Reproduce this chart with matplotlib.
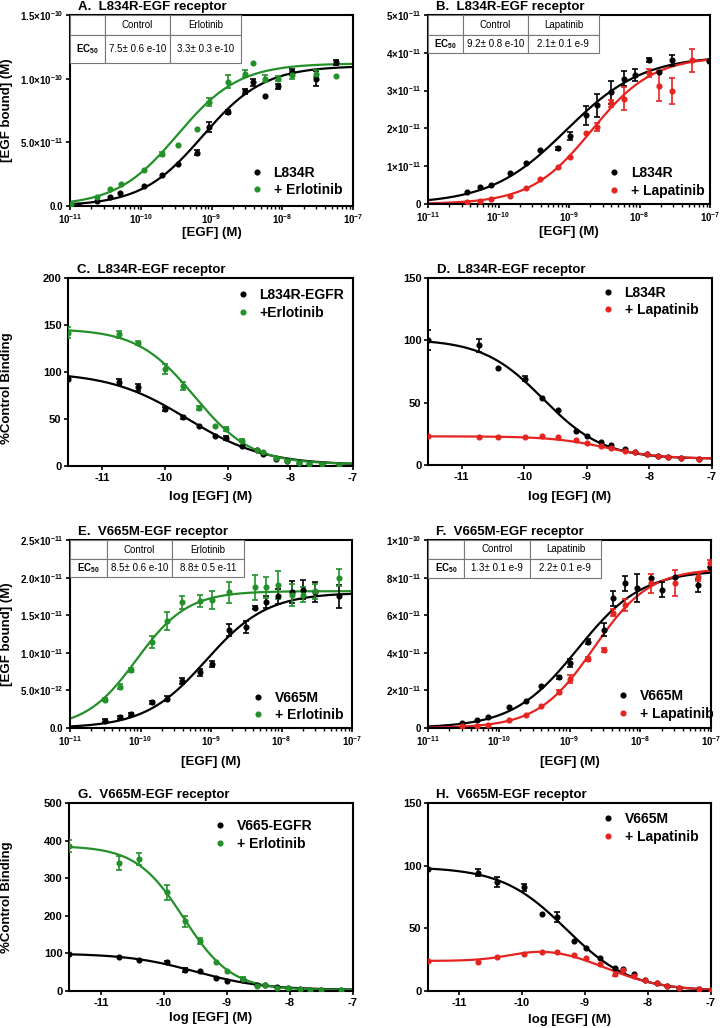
import numpy as np
import matplotlib
matplotlib.use('Agg')
import matplotlib.pyplot as plt
from matplotlib.ticker import FixedLocator, FixedFormatter, NullLocator, LogLocator, NullFormatter

plt.rcParams['font.family'] = ['Liberation Sans', 'DejaVu Sans']
plt.rcParams['font.weight'] = 'bold'
plt.rcParams['axes.unicode_minus'] = False
plt.rcParams['mathtext.fontset'] = 'custom'
plt.rcParams['mathtext.rm'] = 'Liberation Sans:bold'
plt.rcParams['mathtext.it'] = 'Liberation Sans:bold'
plt.rcParams['mathtext.bf'] = 'Liberation Sans:bold'
plt.rcParams['mathtext.sf'] = 'Liberation Sans'
plt.rcParams['mathtext.default'] = 'rm'

GREEN = '#23902a'
RED = '#e52421'

# ---------------- data ----------------
# A: L834R + Erlotinib, saturation binding, y in units of 1e-11 M
a_x_ctl = [-10.87, -10.62, -10.43, -10.29, -9.96, -9.70, -9.47, -9.21, -9.03, -8.77, -8.53, -8.42, -8.24, -8.06, -7.86, -7.53, -7.24]
a_y_ctl = [0.0, 0.4, 0.72, 1.0, 1.55, 2.4, 3.3, 4.2, 6.2, 7.4, 9.0, 9.7, 8.6, 9.4, 10.5, 10.0, 11.3]
a_e_ctl = [0, 0, 0, 0, 0, 0, 0, 0.2, 0.4, 0.15, 0.2, 0.25, 0, 0.2, 0.25, 0.6, 0.2]
a_x_drug = [-10.99, -10.62, -10.43, -10.28, -9.96, -9.70, -9.47, -9.21, -9.03, -8.77, -8.53, -8.42, -8.24, -8.06, -7.86, -7.53, -7.24]
a_y_drug = [0.13, 0.72, 1.3, 1.74, 2.86, 4.1, 4.8, 6.07, 8.16, 9.76, 10.4, 11.2, 10.0, 10.0, 10.3, 10.4, 10.2]
a_e_drug = [0, 0, 0, 0, 0, 0.15, 0, 0, 0.3, 0.5, 0.3, 0, 0.3, 0.2, 0.3, 0.3, 0]
a_fit_ctl = [0, 11.0, -9.125, 1.0]
a_fit_drug = [0, 11.2, -9.48, 1.0]
a_table = ['Erlotinib', '7.5\u00b1 0.6 e-10', '3.3\u00b1 0.3 e-10']

# B: L834R + Lapatinib, y in units of 1e-11 M
b_x_ctl = [-10.44, -10.26, -10.11, -9.84, -9.61, -9.41, -9.16, -8.99, -8.76, -8.60, -8.40, -8.22, -8.06, -7.87, -7.72, -7.54, -7.01]
b_y_ctl = [0.31, 0.44, 0.50, 0.82, 1.09, 1.42, 1.47, 1.80, 2.35, 2.61, 2.95, 3.32, 3.41, 3.81, 3.50, 3.80, 3.77]
b_e_ctl = [0, 0, 0, 0, 0, 0, 0.05, 0.1, 0.25, 0.3, 0.3, 0.2, 0.15, 0.05, 0, 0.15, 0]
b_x_drug = [-10.44, -10.26, -10.11, -9.84, -9.61, -9.41, -9.16, -8.99, -8.76, -8.60, -8.40, -8.22, -7.87, -7.72, -7.54, -7.25]
b_y_drug = [0.05, 0.08, 0.12, 0.22, 0.42, 0.65, 0.97, 1.25, 1.87, 2.04, 2.66, 2.79, 3.46, 3.12, 2.99, 3.80]
b_e_drug = [0, 0, 0, 0, 0, 0, 0, 0, 0, 0.1, 0.1, 0.3, 0.1, 0.4, 0.35, 0.3]
b_fit_ctl = [0, 3.92, -9.036, 0.8]
b_fit_drug = [0, 3.9, -8.678, 1.0]
b_table = ['Lapatinib', '9.2\u00b1 0.8 e-10', '2.1\u00b1 0.1 e-9']

# C: L834R competition, Erlotinib (% control binding vs log[EGF])
c_x = [-11.55, -10.74, -10.44, -10.0, -9.72, -9.46, -9.21, -9.02, -8.77, -8.54, -8.43, -8.23, -8.06, -7.87, -7.71, -7.50, -7.23]
c_y_ctl = [92.5, 89.7, 83.6, 61, 51.6, 42.7, 31.7, 29.9, 21.4, 16.7, 12.5, 7.8, 5.3, 3.6, 2.5, 2.1, 1.4]
c_e_ctl = [2, 3, 4, 2, 2, 0, 0, 2, 0, 0, 0, 0, 0, 0, 0, 0, 0]
c_y_drug = [142, 140, 131, 103, 85, 62, 43, 39, 27, 17, 15, 8, 5.3, 3.6, 2.5, 1.8, 1.4]
c_e_drug = [6, 4, 2, 5, 4, 2, 0, 2, 2, 0, 0, 0, 0, 0, 0, 0, 0]
c_fit_ctl = [1, 100, -9.65, 0.7]
c_fit_drug = [2, 146, -9.53, 0.95]

# D: L834R competition, Lapatinib
d_x = [-11.54, -10.72, -10.42, -9.99, -9.71, -9.46, -9.18, -9.0, -8.78, -8.61, -8.39, -8.23, -8.04, -7.87, -7.70, -7.50, -7.21]
d_y_ctl = [100, 96, 77.7, 69, 54, 44, 27.6, 23.6, 18.2, 16, 12.6, 10.2, 8.6, 7.5, 6.2, 5.4, 4.6]
d_e_ctl = [8, 5, 0, 2, 0, 0, 0, 0, 0, 0, 0, 0, 0, 0, 0, 0, 0]
d_y_drug = [23.3, 22.5, 22.5, 22.5, 23.6, 22.8, 20, 18, 15.5, 13.4, 11.5, 10.2, 8.8, 7.2, 6.2, 5.4, 4.6]
d_e_drug = [0] * 17
d_fit_ctl = [5, 101, -9.7, 0.9]
d_fit_drug = [5, 23, -8.7, 1.0]

# E: V665M + Erlotinib, y in units of 1e-12 M
e_x_ctl = [-10.51, -10.29, -10.14, -9.84, -9.62, -9.41, -9.16, -8.99, -8.75, -8.50, -8.38, -8.22, -8.05, -7.85, -7.69, -7.52, -7.19]
e_y_ctl = [0.97, 1.4, 1.86, 3.45, 3.9, 6.3, 7.4, 8.5, 13.0, 13.4, 16.0, 16.8, 17.5, 18.1, 18.4, 18.1, 17.5]
e_e_ctl = [0.2, 0.2, 0.2, 0.2, 0.3, 0.4, 0.5, 0.4, 0.8, 0.8, 0.2, 0.8, 1.0, 1.5, 1.3, 1.3, 1.5]
e_x_drug = [-10.51, -10.29, -10.14, -9.84, -9.62, -9.41, -9.16, -8.99, -8.75, -8.38, -8.22, -8.05, -7.85, -7.69, -7.52, -7.19]
e_y_drug = [3.76, 5.5, 7.7, 11.5, 14.2, 16.7, 16.9, 17.0, 18.05, 18.7, 18.7, 19.0, 17.7, 17.7, 18.2, 20.0]
e_e_drug = [0.2, 0.3, 0.3, 0.8, 1.2, 0.9, 0.8, 1.2, 1.4, 1.7, 1.4, 1.9, 1.5, 1.0, 1.0, 1.1]
e_fit_ctl = [0, 18.0, -9.07, 1.0]
e_fit_drug = [0, 18.2, -10.056, 1.2]
e_table = ['Erlotinib', '8.5\u00b1 0.6 e-10', '8.8\u00b1 0.5 e-11']

# F: V665M + Lapatinib, y in units of 1e-11 M
f_x_ctl = [-10.52, -10.31, -10.15, -9.85, -9.62, -9.40, -9.15, -8.99, -8.74, -8.51, -8.39, -8.21, -8.04, -7.85, -7.69, -7.51, -7.19, -7.01]
f_y_ctl = [0.27, 0.44, 0.57, 1.12, 1.42, 2.21, 2.69, 3.45, 4.6, 5.22, 6.9, 7.7, 7.43, 7.96, 7.35, 8.02, 7.6, 8.58]
f_e_ctl = [0, 0, 0, 0, 0, 0, 0.1, 0.2, 0.15, 0.35, 0.4, 0.4, 0.75, 0, 0.4, 0, 0.35, 0]
f_x_drug = [-10.52, -10.31, -10.15, -9.85, -9.62, -9.40, -9.15, -8.99, -8.74, -8.51, -8.39, -8.21, -7.85, -7.51, -7.19, -7.01]
f_y_drug = [0.09, 0.12, 0.18, 0.41, 0.71, 1.15, 1.91, 2.6, 3.66, 4.16, 6.14, 6.55, 7.7, 7.73, 8.02, 8.76]
f_e_drug = [0, 0, 0, 0, 0, 0, 0.1, 0.2, 0.1, 0.1, 0.2, 0.3, 0.5, 0.7, 0.2, 0.2]
f_fit_ctl = [0, 8.4, -8.886, 0.95]
f_fit_drug = [0, 8.5, -8.658, 1.1]
f_table = ['Lapatinib', '1.3\u00b1 0.1 e-9', '2.2\u00b1 0.1 e-9']

# G: V665M competition, Erlotinib
g_x = [-11.51, -10.71, -10.40, -9.96, -9.67, -9.43, -9.18, -9.0, -8.75, -8.52, -8.39, -8.21, -8.03, -7.84, -7.68, -7.51, -7.19]
g_y_ctl = [98.6, 89.7, 82.6, 76.4, 56, 53, 34.6, 26.6, 29.3, 15, 15, 9.8, 8, 4.4, 3.6, 3.6, 2.7]
g_e_ctl = [0, 0, 0, 4, 6, 0, 0, 0, 0, 0, 0, 0, 0, 0, 0, 0, 0]
g_y_drug = [386, 340, 351, 262, 185, 134, 78, 54, 32, 13, 15, 9, 7, 4.4, 3.6, 3.6, 2.7]
g_e_drug = [15, 18, 15, 20, 15, 8, 0, 0, 4, 0, 0, 0, 0, 0, 0, 0, 0]
g_fit_ctl = [3, 100, -9.5, 0.8]
g_fit_drug = [3, 386, -9.69, 1.15]

# H: V665M competition, Lapatinib (drug curve is bell shaped)
h_x = [-11.49, -10.70, -10.40, -9.97, -9.68, -9.44, -9.17, -8.99, -8.76, -8.52, -8.39, -8.22, -8.05, -7.86, -7.70, -7.51, -7.19, -7.0]
h_y_ctl = [97, 94.5, 86.7, 82.7, 61.4, 58.7, 40, 34.4, 26.7, 18.4, 17.9, 13.9, 8.5, 6.7, 3.7, 2.7, 1.3, 0.8]
h_e_ctl = [0, 3, 4, 3, 0, 4, 0, 0, 0, 0, 0, 0, 0, 0, 0, 0, 0, 0]
h_y_drug = [24, 23.5, 27.2, 29.9, 31.2, 31.2, 28.6, 26.4, 21.3, 13.9, 16.5, 11.7, 9.1, 6.4, 4.0, 2.7, 1.3, 0.5]
h_e_drug = [0, 0, 0, 0, 0, 0, 0, 0, 0, 2, 0, 0, 0, 0, 0, 0, 0, 0]
h_fit_ctl = [0, 99, -9.3, 0.85]
h_fit_drug = [24, 14, -10.1, 1.5, -8.7, 0.9]   # base, rise, logEC50 up, hill up, logIC50 down, hill down


def fit_up(logx, bottom, top, logec50, hill):
    return bottom + (top - bottom) / (1 + 10 ** (hill * (logec50 - logx)))


def fit_down(logx, bottom, top, logic50, hill):
    return bottom + (top - bottom) / (1 + 10 ** (hill * (logx - logic50)))


def bell(logx, base, rise, c1, h1, c2, h2):
    up = base + rise / (1 + 10 ** (h1 * (c1 - logx)))
    return up / (1 + 10 ** (h2 * (logx - c2)))


def series(ax, x, y, e, color, label, log=False, scale=1.0):
    x = np.array(x, float)
    y = np.array(y, float) * scale
    e = np.array(e, float) * scale
    if log:
        x = 10.0 ** x
    m = e > 0
    ax.errorbar(x[m], y[m], yerr=e[m], fmt='none', ecolor=color, elinewidth=1.2,
                capsize=2.5, capthick=1.2, zorder=3)
    ax.plot(x, y, 'o', ms=3.4, color=color, label=label, zorder=4)


def style(ax, title, leg_xy):
    for s in ax.spines.values():
        s.set_linewidth(1.5)
    ax.tick_params(which='major', direction='out', length=3.2, width=1.2, pad=1.5, labelsize=8)
    ax.text(0.03, 1.01, title, transform=ax.transAxes, fontsize=9.5, fontweight='bold',
            ha='left', va='bottom')
    ax.legend(loc='center left', bbox_to_anchor=leg_xy, frameon=False,
              prop={'weight': 'bold', 'size': 10}, handlelength=1.0, handletextpad=0.7,
              labelspacing=0.25, borderpad=0, borderaxespad=0)


def ec50_table(ax, row, bbox, col_w, row_h):
    cells = [['', 'Control', row[0]], [r'$\mathsf{EC_{50}}$', row[1], row[2]]]
    tb = ax.table(cellText=cells, colWidths=col_w, cellLoc='center', bbox=bbox)
    tb.auto_set_font_size(False)
    for (r, c), cell in tb.get_celld().items():
        cell.set_edgecolor('#777777')
        cell.set_linewidth(0.8)
        cell.set_height(row_h[r])
        cell.get_text().set_fontsize(7)
        cell.get_text().set_fontweight('normal')
    tb.set_zorder(5)


def log_axes(ax, yticks, ylabels):
    ax.set_xscale('log')
    ax.set_xlim(1e-11, 1e-7)
    ax.xaxis.set_major_locator(FixedLocator([1e-11, 1e-10, 1e-9, 1e-8, 1e-7]))
    ax.xaxis.set_major_formatter(FixedFormatter([r'$10^{-11}$', r'$10^{-10}$', r'$10^{-9}$',
                                                 r'$10^{-8}$', r'$10^{-7}$']))
    ax.xaxis.set_minor_locator(LogLocator(base=10, subs=np.arange(2, 10)))
    ax.xaxis.set_minor_formatter(NullFormatter())
    ax.tick_params(axis='x', which='minor', direction='out', length=2.0, width=1.0)
    ax.set_ylim(yticks[0], yticks[-1])
    ax.yaxis.set_major_locator(FixedLocator(yticks))
    ax.yaxis.set_major_formatter(FixedFormatter(ylabels))
    ax.tick_params(which='major', labelsize=7)


def comp_axes(ax, left, ymax, ystep):
    ax.set_xlim(left, -7)
    ax.set_xticks([-11, -10, -9, -8, -7])
    ax.set_ylim(0, ymax)
    ax.set_yticks(np.arange(0, ymax + 1, ystep))


fig = plt.figure(figsize=(7.2, 10.28), dpi=100)
W, H = 720.0, 1028.0


def add_axes(l, r, t, b):
    return fig.add_axes([l / W, 1 - b / H, (r - l) / W, (b - t) / H])


lx = np.linspace(-11, -7, 300)

# ---- A ----
ax = add_axes(70, 353, 15, 206)
ax.plot(10 ** lx, fit_up(lx, *a_fit_ctl) * 1e-11, color='black', lw=1.6)
ax.plot(10 ** lx, fit_up(lx, *a_fit_drug) * 1e-11, color=GREEN, lw=1.6)
series(ax, a_x_ctl, a_y_ctl, a_e_ctl, 'black', 'L834R', log=True, scale=1e-11)
series(ax, a_x_drug, a_y_drug, a_e_drug, GREEN, '+ Erlotinib', log=True, scale=1e-11)
style(ax, 'A.  L834R-EGF receptor', (0.636, 0.128))
log_axes(ax, [0, 5e-11, 1e-10, 1.5e-10],
         ['0.0', r'$5.0{\times}10^{-11}$', r'$1.0{\times}10^{-10}$', r'$1.5{\times}10^{-10}$'])
ec50_table(ax, a_table, [0, 0.749, 0.604, 0.251], [35, 65, 71], [20, 28])
ax.set_xlabel('[EGF] (M)', fontsize=9.5, fontweight='bold', va='center')
ax.xaxis.set_label_coords(0.5, -0.14)
ax.set_ylabel('[EGF bound] (M)', fontsize=9.5, fontweight='bold', va='center')
ax.yaxis.set_label_coords(-0.223, 0.5)

# ---- B ----
ax = add_axes(428, 710, 15, 204)
ax.plot(10 ** lx, fit_up(lx, *b_fit_ctl) * 1e-11, color='black', lw=1.6)
ax.plot(10 ** lx, fit_up(lx, *b_fit_drug) * 1e-11, color=RED, lw=1.6)
series(ax, b_x_ctl, b_y_ctl, b_e_ctl, 'black', 'L834R', log=True, scale=1e-11)
series(ax, b_x_drug, b_y_drug, b_e_drug, RED, '+ Lapatinib', log=True, scale=1e-11)
style(ax, 'B.  L834R-EGF receptor', (0.635, 0.116))
log_axes(ax, [0, 1e-11, 2e-11, 3e-11, 4e-11, 5e-11],
         ['0', r'$1{\times}10^{-11}$', r'$2{\times}10^{-11}$', r'$3{\times}10^{-11}$',
          r'$4{\times}10^{-11}$', r'$5{\times}10^{-11}$'])
ec50_table(ax, b_table, [0, 0.799, 0.606, 0.201], [35, 65, 71], [19, 18])
ax.set_xlabel('[EGF] (M)', fontsize=9.5, fontweight='bold', va='center')
ax.xaxis.set_label_coords(0.5, -0.15)

# ---- C ----
ax = add_axes(68, 353, 278, 466)
cx = np.linspace(-11.55, -7, 300)
ax.plot(cx, fit_down(cx, *c_fit_ctl), color='black', lw=1.6)
ax.plot(cx, fit_down(cx, *c_fit_drug), color=GREEN, lw=1.6)
series(ax, c_x, c_y_ctl, c_e_ctl, 'black', 'L834R-EGFR')
series(ax, c_x, c_y_drug, c_e_drug, GREEN, '+Erlotinib')
comp_axes(ax, -11.55, 200, 50)
style(ax, 'C.  L834R-EGF receptor', (0.589, 0.862))
ax.set_xlabel('log [EGF] (M)', fontsize=9.5, fontweight='bold', va='center')
ax.xaxis.set_label_coords(0.5, -0.165)
ax.set_ylabel('%Control Binding', fontsize=9.5, fontweight='bold', va='center')
ax.yaxis.set_label_coords(-0.214, 0.415)

# ---- D ----
ax = add_axes(428, 712, 278, 465)
dx = np.linspace(-11.54, -7, 300)
ax.plot(dx, fit_down(dx, *d_fit_ctl), color='black', lw=1.6)
ax.plot(dx, fit_down(dx, *d_fit_drug), color=RED, lw=1.6)
series(ax, d_x, d_y_ctl, d_e_ctl, 'black', 'L834R')
series(ax, d_x, d_y_drug, d_e_drug, RED, '+ Lapatinib')
comp_axes(ax, -11.54, 150, 50)
style(ax, 'D.  L834R-EGF receptor', (0.609, 0.874))
ax.set_xlabel('log [EGF] (M)', fontsize=9.5, fontweight='bold', va='center')
ax.xaxis.set_label_coords(0.5, -0.171)

# ---- E ----
ax = add_axes(70, 352, 540, 728)
ax.plot(10 ** lx, fit_up(lx, *e_fit_ctl) * 1e-12, color='black', lw=1.6)
ax.plot(10 ** lx, fit_up(lx, *e_fit_drug) * 1e-12, color=GREEN, lw=1.6)
series(ax, e_x_ctl, e_y_ctl, e_e_ctl, 'black', 'V665M', log=True, scale=1e-12)
series(ax, e_x_drug, e_y_drug, e_e_drug, GREEN, '+ Erlotinib', log=True, scale=1e-12)
style(ax, 'E.  V665M-EGF receptor', (0.642, 0.114))
log_axes(ax, [0, 5e-12, 1e-11, 1.5e-11, 2e-11, 2.5e-11],
         ['0.0', r'$5.0{\times}10^{-12}$', r'$1.0{\times}10^{-11}$', r'$1.5{\times}10^{-11}$',
          r'$2.0{\times}10^{-11}$', r'$2.5{\times}10^{-11}$'])
ec50_table(ax, e_table, [0, 0.803, 0.617, 0.197], [37, 65, 72], [19, 18])
ax.set_xlabel('[EGF] (M)', fontsize=9.5, fontweight='bold', va='center')
ax.xaxis.set_label_coords(0.5, -0.18)
ax.set_ylabel('[EGF bound] (M)', fontsize=9.5, fontweight='bold', va='center')
ax.yaxis.set_label_coords(-0.223, 0.5)

# ---- F ----
ax = add_axes(428, 711, 540, 728)
ax.plot(10 ** lx, fit_up(lx, *f_fit_ctl) * 1e-11, color='black', lw=1.6)
ax.plot(10 ** lx, fit_up(lx, *f_fit_drug) * 1e-11, color=RED, lw=1.6)
series(ax, f_x_ctl, f_y_ctl, f_e_ctl, 'black', 'V665M', log=True, scale=1e-11)
series(ax, f_x_drug, f_y_drug, f_e_drug, RED, '+ Lapatinib', log=True, scale=1e-11)
style(ax, 'F.  V665M-EGF receptor', (0.664, 0.122))
log_axes(ax, [0, 2e-11, 4e-11, 6e-11, 8e-11, 1e-10],
         ['0', r'$2{\times}10^{-11}$', r'$4{\times}10^{-11}$', r'$6{\times}10^{-11}$',
          r'$8{\times}10^{-11}$', r'$1{\times}10^{-10}$'])
ec50_table(ax, f_table, [0, 0.798, 0.611, 0.202], [36, 66, 71], [19, 19])
ax.set_xlabel('[EGF] (M)', fontsize=9.5, fontweight='bold', va='center')
ax.xaxis.set_label_coords(0.5, -0.18)

# ---- G ----
ax = add_axes(69, 353, 803, 991)
gx = np.linspace(-11.51, -7, 300)
ax.plot(gx, fit_down(gx, *g_fit_ctl), color='black', lw=1.6)
ax.plot(gx, fit_down(gx, *g_fit_drug), color=GREEN, lw=1.6)
series(ax, g_x, g_y_ctl, g_e_ctl, 'black', 'V665-EGFR')
series(ax, g_x, g_y_drug, g_e_drug, GREEN, '+ Erlotinib')
comp_axes(ax, -11.51, 500, 100)
style(ax, 'G.  V665M-EGF receptor', (0.507, 0.83))
ax.set_xlabel('log [EGF] (M)', fontsize=9.5, fontweight='bold', va='center')
ax.xaxis.set_label_coords(0.5, -0.144)
ax.set_ylabel('%Control Binding', fontsize=9.5, fontweight='bold', va='center')
ax.yaxis.set_label_coords(-0.218, 0.5)

# ---- H ----
ax = add_axes(428, 711, 803, 991)
hx = np.linspace(-11.49, -7, 300)
ax.plot(hx, fit_down(hx, *h_fit_ctl), color='black', lw=1.6)
ax.plot(hx, bell(hx, *h_fit_drug), color=RED, lw=1.6)
series(ax, h_x, h_y_ctl, h_e_ctl, 'black', 'V665M')
series(ax, h_x, h_y_drug, h_e_drug, RED, '+ Lapatinib')
comp_axes(ax, -11.49, 150, 50)
style(ax, 'H.  V665M-EGF receptor', (0.611, 0.867))
ax.set_xlabel('log [EGF] (M)', fontsize=9.5, fontweight='bold', va='center')
ax.xaxis.set_label_coords(0.5, -0.154)

fig.savefig('out.png', dpi=100)
